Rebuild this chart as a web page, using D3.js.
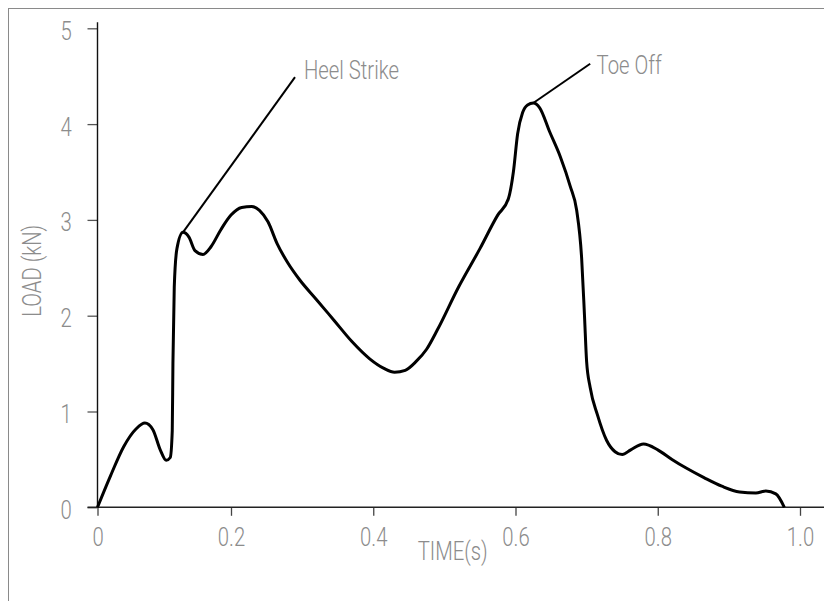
<!DOCTYPE html>
<html>
<head>
<meta charset="utf-8">
<script src="https://cdn.jsdelivr.net/npm/d3@7"></script>
<style>
  body { margin: 0; background: #fff; }
  text { font-family: Roboto, "Liberation Sans", sans-serif; font-weight: 300; }
</style>
</head>
<body>
<div id="viz"></div>
<script>
const width = 824, height = 601;

// ground reaction curve
const timeS = [0, 0.019, 0.039, 0.058, 0.071, 0.083, 0.094, 0.103, 0.109, 0.112, 0.113, 0.115, 0.119, 0.128,
  0.137, 0.146, 0.158, 0.170, 0.185, 0.200, 0.215, 0.229, 0.240, 0.252, 0.265, 0.280, 0.297, 0.320,
  0.345, 0.370, 0.395, 0.415, 0.430, 0.445, 0.460, 0.475, 0.490, 0.520, 0.550, 0.575, 0.590, 0.597,
  0.603, 0.610, 0.617, 0.625, 0.634, 0.648, 0.663, 0.677, 0.686, 0.693, 0.697, 0.700, 0.705, 0.715, 0.728,
  0.740, 0.750, 0.762, 0.780, 0.800, 0.820, 0.840, 0.865, 0.890, 0.915, 0.938, 0.952, 0.966, 0.978];
const loadKN = [0, 0.32, 0.63, 0.82, 0.88, 0.81, 0.60, 0.49, 0.52, 0.8, 1.5, 2.3, 2.7, 2.87,
  2.82, 2.68, 2.64, 2.72, 2.9, 3.05, 3.13, 3.14, 3.1, 2.98, 2.75, 2.55, 2.37, 2.17,
  1.95, 1.73, 1.55, 1.45, 1.41, 1.43, 1.52, 1.65, 1.85, 2.3, 2.7, 3.05, 3.22, 3.5,
  3.9, 4.12, 4.2, 4.22, 4.17, 3.92, 3.66, 3.35, 3.1, 2.6, 2.0, 1.52, 1.25, 0.97, 0.7,
  0.58, 0.55, 0.6, 0.66, 0.6, 0.5, 0.41, 0.31, 0.22, 0.16, 0.15, 0.17, 0.14, 0.0];

const xTicks = [0, 0.2, 0.4, 0.6, 0.8, 1.0];
const yTicks = [0, 1, 2, 3, 4, 5];

// annotations
const annoText = ["Heel Strike", "Toe Off"];
const annoFromX = [0.128, 0.625], annoFromY = [2.87, 4.22];
const annoToX = [0.29, 0.705], annoToY = [4.49, 4.63];
const annoTextX = [0.3026, 0.714], annoTextY = [4.468, 4.52];

const svg = d3.select("#viz").append("svg")
  .attr("width", width)
  .attr("height", height);

// outer frame (only top and left fall inside the window)
svg.append("rect")
  .attr("x", 8.5).attr("y", 8.5)
  .attr("width", width + 20).attr("height", height + 20)
  .attr("fill", "none").attr("stroke", "#8a8a8a").attr("stroke-width", 1);

// the first interval of the time axis is drawn a bit shorter in the original
const x = d3.scaleLinear().domain([0, 0.2, 1.0]).range([97.5, 231, 800]);
const y = d3.scaleLinear().domain([0, 5]).range([507.3, 28.3]);

const labelColor = "#8c8c8c";

// X axis
const gx = svg.append("g")
  .attr("transform", `translate(0, ${y(0)})`)
  .call(d3.axisBottom(x).tickValues(xTicks)
    .tickFormat(d => d === 0 ? "0" : d3.format(".1f")(d))
    .tickSize(8.5).tickPadding(11.7));
gx.select(".domain").remove();
gx.selectAll(".tick line").attr("stroke", "#444").attr("stroke-width", 1.3);
gx.selectAll(".tick text").attr("fill", labelColor).attr("font-size", 26)
  .attr("font-family", "Roboto").attr("font-weight", 300);

// Y axis
const gy = svg.append("g")
  .attr("transform", `translate(${x(0)}, 0)`)
  .call(d3.axisLeft(y).tickValues(yTicks).tickFormat(d3.format("d"))
    .tickSize(10).tickPadding(15.7));
gy.select(".domain").remove();
gy.selectAll(".tick line").attr("stroke", "#555").attr("stroke-width", 1.3);
gy.selectAll(".tick text").attr("fill", labelColor).attr("font-size", 26)
  .attr("font-family", "Roboto").attr("font-weight", 300)
  .attr("dy", "0.42em");

// axis lines
svg.append("line")
  .attr("x1", x(0) - 10).attr("x2", width)
  .attr("y1", y(0)).attr("y2", y(0))
  .attr("stroke", "#222").attr("stroke-width", 1.6);
svg.append("line")
  .attr("x1", x(0)).attr("x2", x(0))
  .attr("y1", y(0)).attr("y2", y(5) - 6)
  .attr("stroke", "#111").attr("stroke-width", 1.4);

// axis titles
svg.append("text")
  .attr("x", (x(0) + width - 16) / 2).attr("y", 560)
  .attr("text-anchor", "middle")
  .attr("fill", labelColor).attr("font-size", 26)
  .text("TIME(s)");
svg.append("text")
  .attr("transform", `translate(40.5, ${(y(0) + y(5)) / 2 + 3}) rotate(-90)`)
  .attr("text-anchor", "middle")
  .attr("fill", labelColor).attr("font-size", 26)
  .text("LOAD (kN)");

// curve
const pts = timeS.map((t, i) => [t, loadKN[i]]);
svg.append("path")
  .datum(pts)
  .attr("fill", "none")
  .attr("stroke", "#000")
  .attr("stroke-width", 3)
  .attr("stroke-linejoin", "round")
  .attr("d", d3.line().x(d => x(d[0])).y(d => y(d[1])).curve(d3.curveMonotoneX));

// annotation leaders and labels
annoText.forEach((t, i) => {
  svg.append("line")
    .attr("x1", x(annoFromX[i])).attr("y1", y(annoFromY[i]))
    .attr("x2", x(annoToX[i])).attr("y2", y(annoToY[i]))
    .attr("stroke", "#000").attr("stroke-width", 2);
  svg.append("text")
    .attr("x", x(annoTextX[i])).attr("y", y(annoTextY[i]))
    .attr("fill", labelColor).attr("font-size", 26)
    .text(t);
});

// the original face is a condensed one: squeeze every label
svg.selectAll("text").each(function () {
  const w = this.getComputedTextLength();
  d3.select(this).attr("textLength", w * 0.78).attr("lengthAdjust", "spacingAndGlyphs");
});
</script>
</body>
</html>
